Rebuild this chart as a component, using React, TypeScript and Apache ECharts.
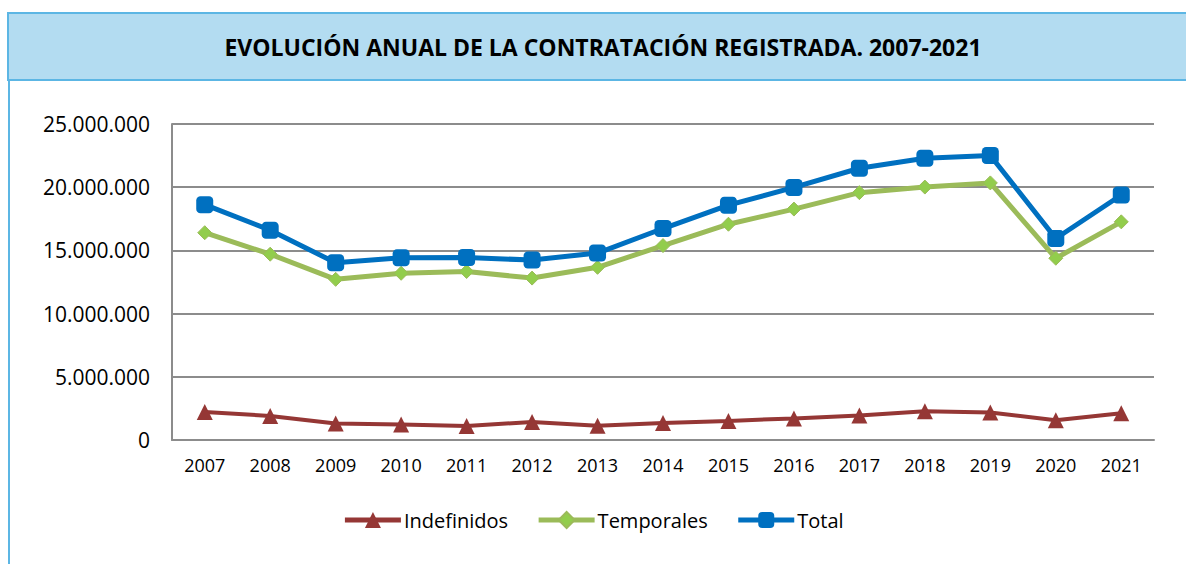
import React, { useEffect, useRef } from "react";
import * as echarts from "echarts";

const years = ["2007","2008","2009","2010","2011","2012","2013","2014","2015","2016","2017","2018","2019","2020","2021"];
const indefinidos = [2220000,1900000,1310000,1230000,1100000,1430000,1130000,1350000,1510000,1710000,1930000,2280000,2170000,1560000,2120000];
const temporales = [16400000,14700000,12710000,13190000,13330000,12810000,13660000,15380000,17070000,18270000,19570000,20010000,20340000,14380000,17260000];
const total = [18620000,16600000,14020000,14420000,14430000,14240000,14790000,16730000,18580000,19980000,21500000,22290000,22510000,15940000,19380000];
const titleText = "EVOLUCIÓN ANUAL DE LA CONTRATACIÓN REGISTRADA. 2007-2021";

const FONT = "'Open Sans', sans-serif";

function fmt(v: number): string {
  return String(Math.round(v)).replace(/\B(?=(\d{3})+(?!\d))/g, ".");
}

export default function App() {
  const ref = useRef<HTMLDivElement>(null);
  useEffect(() => {
    if (!ref.current) return;
    const chart = echarts.init(ref.current, undefined, { renderer: "svg" });
    chart.setOption({
      animation: false,
      backgroundColor: "#ffffff",
      textStyle: { fontFamily: FONT },
      graphic: [
        {
          type: "rect",
          shape: { x: 8, y: 13, width: 1260, height: 67 },
          style: { fill: "#B3DCF1", stroke: "#5CB6E4", lineWidth: 2 },
          z: 0,
        },
        {
          type: "line",
          shape: { x1: 9, y1: 80, x2: 9, y2: 570 },
          style: { stroke: "#5CB6E4", lineWidth: 2 },
        },
        {
          type: "text",
          x: 603,
          y: 47,
          style: {
            text: titleText,
            fill: "#000000",
            font: `bold 23px ${FONT}`,
            textAlign: "center",
            textVerticalAlign: "middle",
          },
          z: 10,
        },
      ],
      grid: { left: 172, right: 32, top: 124, bottom: 124, containLabel: false },
      legend: {
        bottom: 29,
        left: "center",
        itemWidth: 56,
        itemHeight: 20,
        itemGap: 28,
        lineStyle: { width: 5 },
        textStyle: { fontSize: 20, color: "#000000", fontFamily: FONT, padding: [0, 0, 0, -2] },
        data: ["Indefinidos", "Temporales", "Total"],
      },
      xAxis: {
        type: "category",
        data: years,
        boundaryGap: true,
        axisLine: { lineStyle: { color: "#8C8C8C", width: 2 } },
        axisTick: { show: false },
        axisLabel: { fontSize: 18, color: "#000000", margin: 16, fontFamily: FONT },
      },
      yAxis: {
        type: "value",
        min: 0,
        max: 25000000,
        interval: 5000000,
        axisLine: { show: true, lineStyle: { color: "#8C8C8C", width: 2 } },
        axisTick: { show: false },
        splitLine: { lineStyle: { color: "#8C8C8C", width: 2 } },
        axisLabel: { fontSize: 21, color: "#000000", margin: 22, fontFamily: FONT, formatter: (v: number) => fmt(v) },
      },
      series: [
        {
          name: "Indefinidos",
          type: "line",
          data: indefinidos,
          symbol: "triangle",
          symbolSize: 16,
          lineStyle: { color: "#953735", width: 4 },
          itemStyle: { color: "#953735" },
        },
        {
          name: "Temporales",
          type: "line",
          data: temporales,
          symbol: "diamond",
          symbolSize: 14,
          lineStyle: { color: "#9BBB59", width: 5 },
          itemStyle: { color: "#92CD4C", borderColor: "#9BBB59", borderWidth: 1 },
        },
        {
          name: "Total",
          type: "line",
          data: total,
          symbol: "roundRect",
          symbolSize: 17,
          lineStyle: { color: "#0070C0", width: 5 },
          itemStyle: { color: "#0070C0" },
        },
      ],
    });
    return () => chart.dispose();
  }, []);
  return (
    <div
      ref={ref}
      style={{ position: "fixed", left: 0, top: 0, width: 1186, height: 564, background: "#fff" }}
    />
  );
}
